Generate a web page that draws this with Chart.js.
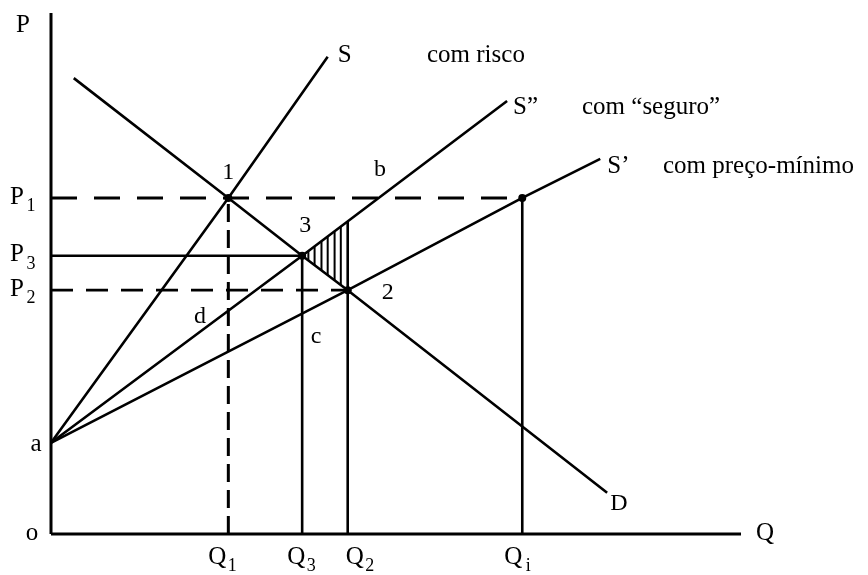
<!DOCTYPE html>
<html>
<head>
<meta charset="utf-8">
<script src="https://cdn.jsdelivr.net/npm/chart.js@4/dist/chart.umd.min.js"></script>
<style>
  html, body { margin: 0; padding: 0; background: #fff; }
  canvas { display: block; }
</style>
</head>
<body>
<canvas id="chart" width="868" height="575"></canvas>
<script>
// values (Q on x, P on y, both 0..100)
const priceSubs = ['1', '3', '2'];
const priceValues = [64.5, 53.4, 46.8];          // P1, P3, P2
const qtySubs = ['1', '3', '2', 'i'];
const qtyValues = [25.7, 36.4, 43.0, 68.3];      // Q1, Q3, Q2, Qi
const pointA = [0, 17.5];

const endS = [40.1, 91.6];        // S   com risco
const endSeguro = [66.1, 83.1];   // S'' com "seguro"
const endMinimo = [79.6, 72.0];   // S'  com preço-mínimo
const demandStart = [3.3, 87.5];
const demandEnd = [80.6, 7.9];

const hatchX = [37.3, 38.2, 39.2, 40.1, 41.1, 42.0];

// label nudges (pixels) for the Q ticks
const qShift = [-11, -6, 7, -9];

const [P1, P3, P2] = priceValues;
const [Q1, Q3, Q2, Qi] = qtyValues;
const pt1 = [Q1, P1], pt3 = [Q3, P3], pt2 = [Q2, P2], ptI = [Qi, P1];

const xy = arr => arr.map(p => ({x: p[0], y: p[1]}));
const lerp = (p, q, x) => p[1] + (q[1] - p[1]) * (x - p[0]) / (q[0] - p[0]);

const q2Top = lerp(pointA, pt3, Q2);

const hatch = [];
hatchX.forEach(x => {
    hatch.push({x, y: lerp(pt3, pt2, x)});
    hatch.push({x, y: lerp(pointA, pt3, x)});
    hatch.push({x, y: null});
});

function line(data, width, dash) {
    return {
        data: xy(data), showLine: true, borderColor: '#000', borderWidth: width,
        borderDash: dash || [], pointRadius: 0, clip: false, tension: 0
    };
}

const datasets = [
    line([[0, 0], [0, 100]], 3),
    line([[0, 0], [100, 0]], 3),
    line([pointA, pt1, endS], 2.6),
    line([pointA, pt3, endSeguro], 2.6),
    line([pointA, pt2, ptI, endMinimo], 2.6),
    line([demandStart, pt1, pt3, pt2, demandEnd], 2.6),
    line([[0, P1], ptI], 3, [26, 17]),
    line([[0, P3], pt3], 2.6),
    line([[0, P2], pt2], 2.6, [22, 13]),
    line([[Q1, 0], pt1], 3, [18, 8]),
    line([[Q3, 0], pt3], 2.6),
    line([[Q2, 0], [Q2, q2Top]], 2.6),
    line([[Qi, 0], ptI], 2.6),
    {data: hatch, showLine: true, spanGaps: false, borderColor: '#000', borderWidth: 2,
        pointRadius: 0, clip: false},
    {data: xy([pt1, pt3, pt2, ptI]), showLine: false, pointRadius: 4,
        pointBackgroundColor: '#000', pointBorderWidth: 0, clip: false}
];

const FONT = '"Liberation Serif", "Times New Roman", serif';

const labels = {
    id: 'labels',
    afterDatasetsDraw(chart) {
        const ctx = chart.ctx;
        const xs = chart.scales.x, ys = chart.scales.y;
        const X = v => xs.getPixelForValue(v), Y = v => ys.getPixelForValue(v);
        ctx.save();
        ctx.fillStyle = '#000';
        ctx.textBaseline = 'middle';

        const put = (t, x, y, size, align) => {
            ctx.font = size + 'px ' + FONT;
            ctx.textAlign = align || 'center';
            ctx.fillText(t, x, y);
        };

        // axis titles
        put('P', X(0) - 28, 25, 25);
        put('Q', 765, Y(0) - 1, 25);
        put('o', X(0) - 19, Y(0) - 1, 25);
        put('a', X(0) - 15, Y(pointA[1]) + 2, 25);

        // price ticks
        priceValues.forEach((v, i) => {
            put('P', 17, Y(v) - 1, 25);
            put(priceSubs[i], 31, Y(v) + 8, 18);
        });

        // quantity ticks
        qtyValues.forEach((v, i) => {
            const x = X(v) + qShift[i];
            put('Q', x, Y(0) + 23, 25);
            put(qtySubs[i], x + 15, Y(0) + 32, 18);
        });

        // points and areas
        put('1', X(Q1), Y(P1) - 25, 24);
        put('3', X(Q3) + 3, Y(P3) - 30, 24);
        put('2', X(Q2) + 40, Y(P2) + 3, 24);
        put('b', 380, 170, 24);
        put('d', 200, 317, 24);
        put('c', 316, 337, 24);
        put('D', 619, 504, 24);

        // curve labels
        put('S', X(endS[0]) + 10, Y(endS[1]) - 1, 25, 'left');
        put('com risco', 427, Y(endS[1]) - 1, 25, 'left');
        put('S\u201d', X(endSeguro[0]) + 6, Y(endSeguro[1]) + 6, 25, 'left');
        put('com \u201cseguro\u201d', 582, Y(endSeguro[1]) + 6, 25, 'left');
        put('S\u2019', X(endMinimo[0]) + 7, Y(endMinimo[1]) + 8, 25, 'left');
        put('com preço-mínimo', 663, Y(endMinimo[1]) + 8, 25, 'left');

        ctx.restore();
    }
};

new Chart(document.getElementById('chart').getContext('2d'), {
    type: 'scatter',
    data: {datasets},
    options: {
        responsive: false,
        animation: false,
        devicePixelRatio: 1,
        layout: {padding: {left: 51, right: 127, top: 13, bottom: 41}},
        scales: {
            x: {type: 'linear', min: 0, max: 100, display: false},
            y: {type: 'linear', min: 0, max: 100, display: false}
        },
        plugins: {legend: {display: false}, tooltip: {enabled: false}}
    },
    plugins: [labels]
});
</script>
</body>
</html>
